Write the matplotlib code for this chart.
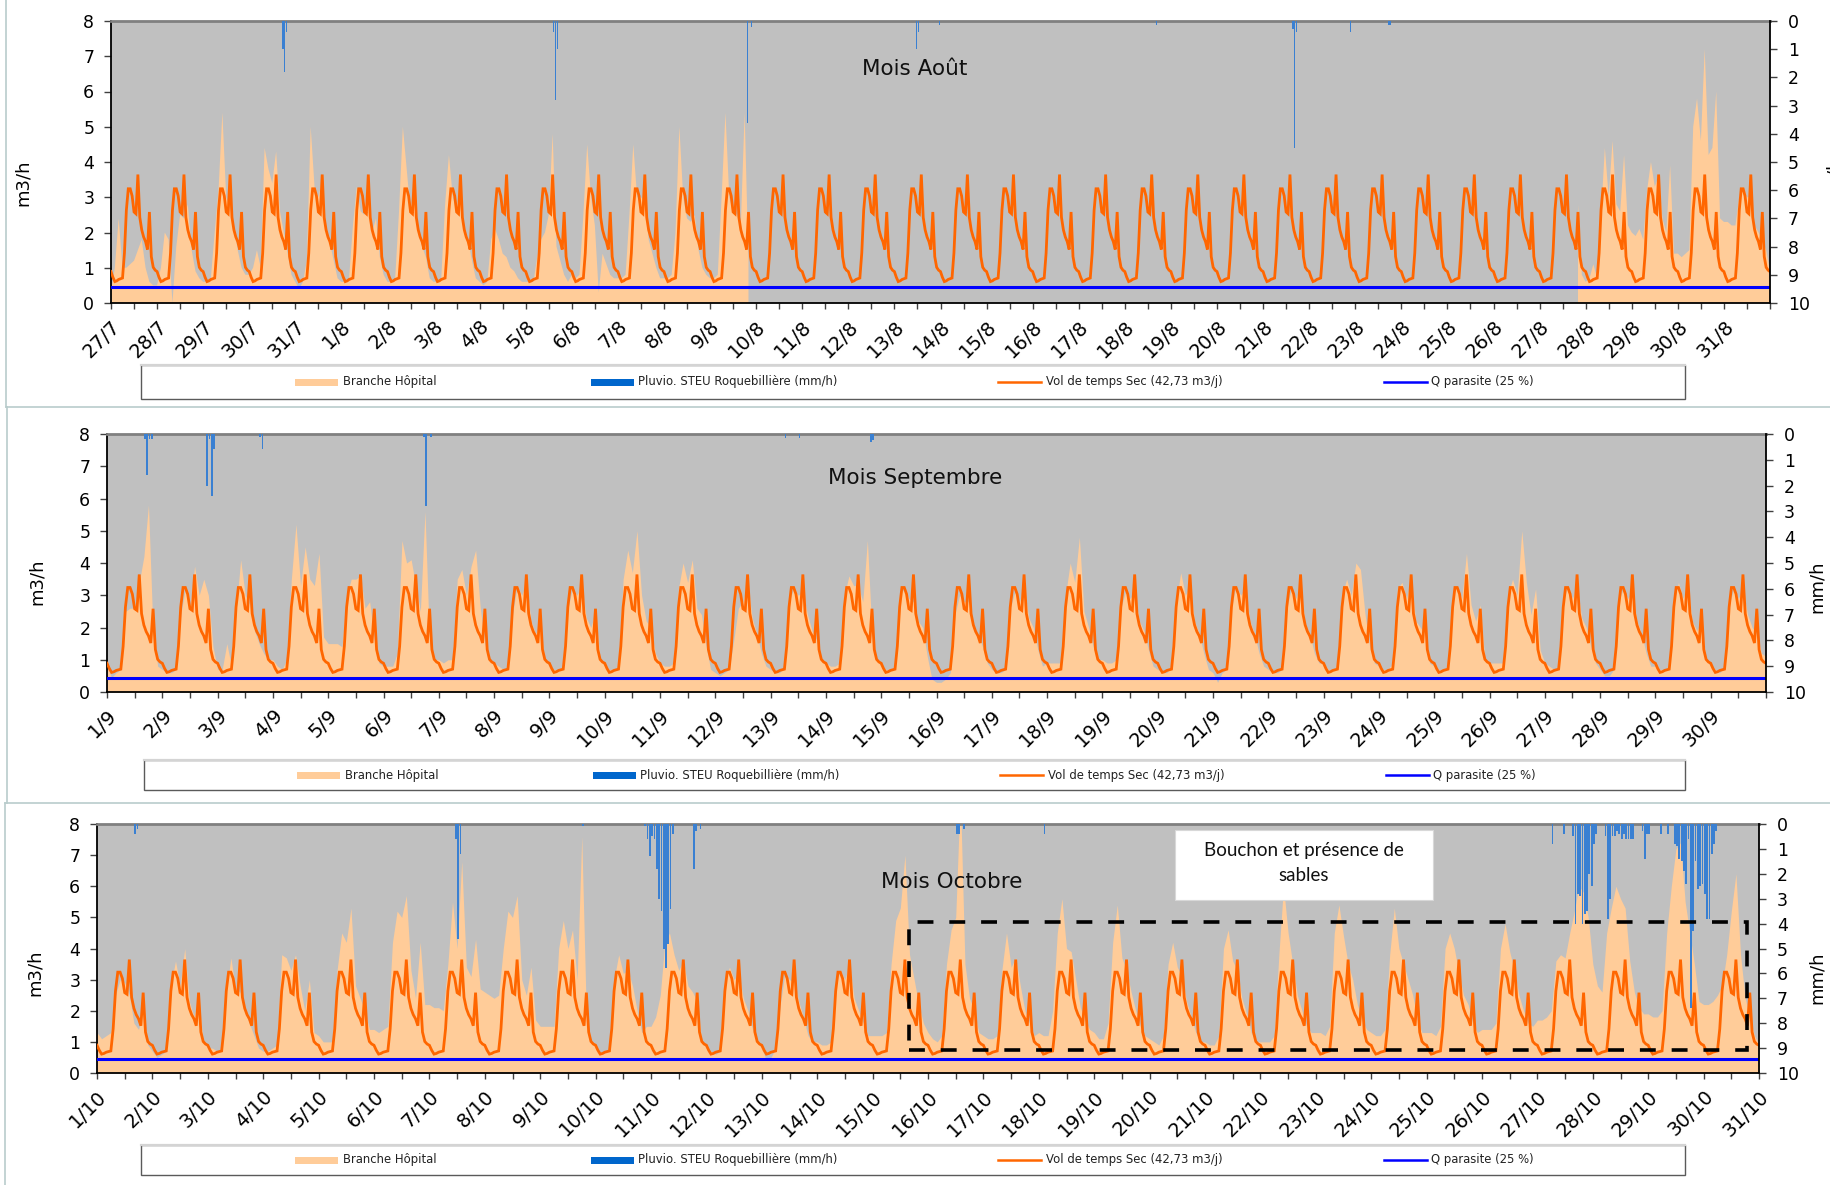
import datetime as dt
import numpy as np
import matplotlib
matplotlib.use("Agg")
import matplotlib.pyplot as plt
from matplotlib.patches import Rectangle
from matplotlib.lines import Line2D

plt.rcParams["font.family"] = ["DejaVu Sans"]

NA = np.nan

# ------------------------------------------------------------------ data
# Hourly dry-weather profile shape (m3/h, hours 0..23), scaled to the daily volume
DRY_SHAPE = [0.88, 0.72, 0.60, 0.62, 0.66, 0.68, 0.70, 1.40, 2.60, 3.20, 3.20, 3.00,
             2.55, 2.50, 3.60, 2.40, 2.05, 1.85, 1.72, 1.50, 2.55, 1.30, 1.00, 0.92]
VOL_SEC_M3J = 42.73          # dry-weather daily volume
PARASITE_SHARE = 0.25        # parasitic flow share of the dry-weather volume

# Hospital branch flow, sampled every two hours (m3/h)
HOSP_HOURS = [0, 2, 4, 6, 8, 10, 12, 14, 16, 18, 20, 22]
NO_DATA = [NA] * 12

HOSP_AUG = [
    [0.3, 1.0, 2.4, 1.0, 1.0, 1.1, 1.2, 1.5, 1.8, 1.0, 0.6, 0.5],   # 27/7
    [0.5, 1.0, 2.0, 1.8, 0.0, 1.6, 2.5, 2.4, 2.8, 1.5, 0.9, 0.7],   # 28/7
    [0.6, 0.6, 0.7, 2.0, 3.2, 5.4, 3.0, 2.7, 2.2, 1.5, 1.0, 0.8],   # 29/7
    [0.8, 1.0, 1.5, 1.0, 4.4, 3.8, 3.4, 4.3, 2.6, 2.0, 1.4, 0.8],   # 30/7
    [0.6, 0.4, 0.6, 1.2, 5.0, 3.3, 3.0, 3.5, 2.1, 1.7, 1.2, 0.7],   # 31/7
    [0.6, 0.6, 0.7, 2.2, 3.3, 2.6, 2.5, 3.5, 2.0, 2.4, 1.3, 0.8],   # 1/8
    [0.6, 0.6, 0.7, 2.6, 5.0, 3.8, 2.6, 3.3, 2.0, 1.6, 1.3, 0.7],   # 2/8
    [0.6, 0.6, 0.7, 2.8, 4.2, 3.0, 2.6, 3.5, 2.0, 1.8, 1.2, 0.7],   # 3/8
    [0.6, 0.5, 0.6, 1.8, 2.1, 1.8, 1.4, 1.3, 1.0, 0.9, 0.7, 0.6],   # 4/8
    [0.6, 0.6, 0.6, 1.3, 1.8, 2.0, 2.5, 4.8, 1.6, 1.2, 0.8, 0.6],   # 5/8
    [0.8, 0.7, 0.8, 2.5, 4.5, 3.0, 2.2, 0.3, 1.4, 1.1, 0.8, 0.7],   # 6/8
    [0.7, 0.7, 0.8, 2.5, 4.5, 3.0, 3.0, 2.9, 1.8, 1.4, 1.0, 0.7],   # 7/8
    [0.7, 0.7, 0.8, 2.0, 5.0, 3.0, 2.4, 2.3, 2.5, 1.5, 1.0, 0.8],   # 8/8
    [0.7, 0.7, 0.8, 3.0, 5.4, 3.0, 2.6, 2.5, 2.2, 5.4, 1.2, NA],    # 9/8
    *([NO_DATA] * 17),                                                # 10/8 .. 26/8
    [NA, NA, NA, NA, NA, NA, NA, NA, NA, NA, 2.8, 0.8],              # 27/8
    [0.6, 0.7, 1.1, 0.7, 2.5, 4.4, 3.0, 4.6, 2.8, 2.6, 4.2, 2.2],   # 28/8
    [2.0, 1.9, 2.1, 1.8, 3.2, 4.0, 3.3, 3.6, 2.4, 2.0, 3.9, 1.4],   # 29/8
    [1.4, 1.3, 1.4, 1.5, 5.0, 5.8, 4.6, 7.2, 4.2, 4.4, 6.0, 2.4],   # 30/8
    [2.3, 2.3, 2.2, 2.2, 3.0, 3.3, 3.0, 3.0, 2.2, 2.0, 1.8, 1.5],   # 31/8
]
HOSP_AUG_END = 0.9

HOSP_SEP = [
    [0.8, 0.45, 0.6, 0.7, 2.5, 2.6, 2.6, 3.4, 4.2, 5.8, 1.8, 0.8],  # 1/9
    [0.7, 0.6, 0.6, 0.7, 2.4, 3.2, 2.6, 3.9, 3.0, 3.5, 3.0, 1.4],
    [0.7, 0.7, 1.5, 0.8, 2.5, 4.1, 3.0, 2.7, 1.9, 1.5, 1.2, 1.0],
    [1.0, 0.8, 0.7, 1.0, 3.5, 5.2, 3.3, 4.5, 3.5, 3.3, 4.3, 1.7],
    [1.5, 1.5, 1.5, 1.4, 3.0, 3.5, 3.5, 3.6, 2.6, 2.8, 1.6, 0.9],   # 5/9
    [0.8, 0.8, 0.8, 1.2, 4.7, 4.0, 4.1, 3.3, 2.5, 5.6, 1.5, 1.0],
    [1.0, 0.9, 1.0, 1.0, 3.5, 3.8, 3.0, 3.9, 4.4, 2.6, 1.5, 1.0],
    [0.9, 0.8, 0.7, 0.7, 2.4, 3.3, 3.0, 3.4, 2.2, 1.8, 2.1, 1.0],
    [0.8, 0.7, 0.7, 0.8, 2.6, 3.2, 3.0, 3.3, 2.3, 2.0, 2.5, 1.0],
    [0.8, 0.7, 0.7, 0.8, 3.5, 4.4, 3.7, 5.0, 3.0, 2.2, 2.0, 1.2],   # 10/9
    [0.9, 0.8, 0.8, 0.9, 3.2, 4.0, 3.4, 4.1, 2.6, 2.4, 1.4, 0.7],
    [0.6, 0.5, 0.6, 0.7, 1.6, 2.6, 2.8, 3.4, 2.3, 1.8, 1.2, 0.8],
    [0.7, 0.6, 0.6, 0.8, 2.8, 3.2, 3.0, 3.1, 2.4, 1.9, 1.6, 1.0],
    [0.9, 0.8, 0.8, 0.9, 3.0, 3.6, 3.3, 3.3, 2.8, 4.7, 1.8, 1.0],
    [0.8, 0.7, 0.7, 0.8, 3.0, 3.2, 2.9, 2.8, 2.2, 2.0, 1.1, 0.4],   # 15/9
    [0.3, 0.3, 0.4, 0.6, 2.4, 3.0, 2.8, 2.8, 2.0, 1.8, 1.4, 0.9],
    [0.7, 0.6, 0.6, 0.7, 2.6, 3.1, 2.8, 3.3, 2.3, 2.0, 1.3, 0.8],
    [0.9, 0.9, 0.9, 0.9, 3.0, 4.0, 3.4, 4.8, 2.5, 2.0, 1.4, 1.0],
    [1.0, 0.9, 0.9, 1.0, 2.6, 3.1, 2.9, 3.1, 2.2, 1.9, 1.3, 0.8],
    [0.7, 0.6, 0.6, 0.8, 2.8, 3.7, 3.0, 3.3, 2.2, 1.8, 1.2, 0.7],   # 20/9
    [0.6, 0.3, 0.6, 0.7, 2.6, 3.3, 3.0, 3.2, 2.2, 1.8, 1.2, 0.8],
    [0.7, 0.6, 0.6, 0.7, 2.6, 3.2, 2.9, 3.3, 2.1, 1.8, 1.2, 0.9],
    [0.9, 0.7, 0.7, 0.8, 3.0, 3.5, 3.0, 4.0, 3.8, 2.4, 1.4, 0.9],
    [0.8, 0.7, 0.7, 0.9, 3.2, 3.4, 2.9, 3.5, 2.2, 2.0, 1.8, 0.9],
    [0.8, 0.7, 0.7, 0.8, 3.0, 3.3, 2.9, 4.3, 2.7, 2.2, 2.7, 1.0],   # 25/9
    [0.9, 0.9, 0.9, 0.9, 3.0, 3.5, 3.0, 5.0, 3.4, 2.4, 3.2, 1.3],
    [0.9, 0.8, 0.7, 0.8, 2.8, 3.3, 2.9, 3.3, 2.3, 2.0, 1.4, 0.9],
    [0.7, 0.5, 0.5, 0.7, 2.8, 3.2, 2.9, 3.1, 2.2, 1.8, 1.2, 0.8],
    [0.8, 0.7, 0.7, 0.8, 2.8, 3.4, 2.9, 3.3, 2.2, 1.9, 2.2, 1.0],
    [0.8, 0.7, 0.6, 0.8, 2.7, 3.2, 2.9, 3.2, 2.4, 2.0, 1.8, 1.2],   # 30/9
]
HOSP_SEP_END = 1.1

HOSP_OCT = [
    [1.3, 1.1, 1.2, 1.3, 2.5, 3.0, 2.9, 2.5, 1.6, 1.4, 2.0, 0.9],   # 1/10
    [0.7, 0.5, 0.6, 0.7, 2.8, 3.6, 2.8, 4.0, 2.3, 1.8, 2.4, 1.0],
    [0.8, 0.8, 0.7, 0.8, 2.6, 3.7, 2.7, 2.6, 2.0, 1.6, 1.2, 0.8],
    [0.7, 0.7, 0.8, 0.9, 3.8, 3.7, 3.3, 3.8, 2.8, 2.0, 3.0, 1.3],
    [1.2, 1.0, 1.0, 1.0, 3.3, 4.5, 4.2, 5.3, 2.8, 2.4, 2.0, 1.4],   # 5/10
    [1.4, 1.3, 1.4, 1.5, 4.2, 5.2, 5.0, 5.7, 3.3, 2.4, 4.2, 2.2],
    [2.2, 2.1, 2.1, 2.0, 3.5, 5.5, 4.0, 6.8, 3.4, 3.1, 4.3, 2.7],
    [2.6, 2.5, 2.4, 2.5, 4.0, 5.2, 5.0, 5.7, 3.0, 2.5, 3.4, 1.7],
    [1.5, 1.5, 1.5, 1.5, 4.0, 4.9, 4.0, 4.6, 3.0, 7.6, 1.8, 1.0],
    [0.9, 0.6, 0.7, 0.8, 3.0, 3.8, 3.2, 3.3, 2.8, 2.0, 1.3, 1.5],   # 10/10
    [1.5, 1.8, 2.5, 4.2, 4.5, 3.8, 3.3, 3.6, 2.8, 2.6, 2.3, 1.0],
    [0.8, 0.7, 0.6, 0.7, 3.0, 3.4, 3.0, 3.2, 2.4, 2.0, 1.4, 1.0],
    [0.8, 0.4, 0.5, 0.8, 2.2, 3.2, 3.0, 2.9, 2.3, 1.8, 1.2, 1.0],
    [1.0, 0.9, 0.9, 1.0, 2.8, 3.3, 3.0, 3.5, 2.4, 2.0, 1.6, 1.2],
    [1.2, 1.2, 1.2, 1.3, 3.5, 4.9, 5.3, 7.0, 3.8, 3.0, 2.2, 1.6],   # 15/10
    [1.3, 1.1, 1.0, 1.2, 3.5, 4.6, 5.0, 9.0, 3.5, 2.4, 2.0, 1.3],
    [1.2, 1.1, 1.1, 1.2, 3.3, 4.5, 3.4, 3.7, 2.8, 2.0, 1.6, 1.2],
    [1.3, 1.2, 1.2, 2.0, 4.5, 5.6, 4.0, 3.9, 3.0, 2.1, 1.7, 1.4],
    [1.3, 1.1, 1.1, 1.6, 4.2, 5.4, 3.7, 3.3, 2.6, 2.0, 1.5, 1.2],
    [1.1, 1.0, 0.9, 1.2, 3.5, 4.2, 3.4, 3.1, 2.3, 1.8, 1.3, 1.0],   # 20/10
    [1.0, 0.9, 0.9, 1.2, 4.0, 4.6, 3.6, 3.3, 2.4, 1.9, 1.3, 1.0],
    [1.0, 1.0, 1.0, 1.2, 3.8, 6.0, 4.5, 3.5, 2.5, 2.0, 1.5, 1.3],
    [1.3, 1.3, 1.2, 1.5, 4.5, 5.4, 4.4, 3.5, 3.0, 2.2, 1.7, 1.4],
    [1.3, 1.2, 1.2, 1.4, 3.8, 5.3, 4.0, 3.5, 3.0, 2.5, 1.7, 1.3],
    [1.3, 1.3, 1.2, 1.5, 4.0, 4.5, 4.0, 3.2, 2.5, 2.2, 1.6, 1.3],   # 25/10
    [1.4, 1.4, 1.4, 1.6, 4.0, 4.8, 3.9, 3.3, 2.5, 2.0, 1.6, 1.5],
    [1.7, 1.7, 1.8, 2.0, 3.6, 3.8, 3.7, 4.5, 5.2, 6.0, 5.8, 5.0],
    [3.5, 2.8, 2.6, 4.5, 5.3, 6.0, 5.6, 5.3, 3.6, 2.6, 2.1, 1.9],
    [1.9, 1.8, 1.8, 2.0, 4.5, 6.0, 7.2, 7.4, 5.5, 4.5, 3.5, 2.3],
    [2.2, 2.2, 2.3, 2.5, 2.8, 3.8, 5.2, 6.4, 3.8, 2.4, 1.8, 1.2],   # 30/10
]
HOSP_OCT_END = 0.9

# Rainfall, STEU Roquebillière rain gauge (mm/h): date, hour, depth
RAIN_AUG_DATE = ["30/7", "30/7", "30/7", "5/8", "5/8", "5/8", "9/8", "9/8",
                 "13/8", "13/8", "13/8", "18/8", "21/8", "21/8", "21/8",
                 "22/8", "23/8", "23/8"]
RAIN_AUG_HOUR = [17, 18, 19, 14, 15, 16, 19, 21, 11, 12, 23, 16, 15, 16, 17, 21, 17, 18]
RAIN_AUG_MM = [1.0, 1.8, 0.4, 0.4, 2.8, 1.0, 3.6, 0.2, 1.0, 0.4, 0.15, 0.15,
               0.3, 4.5, 0.4, 0.4, 0.15, 0.15]

RAIN_SEP_DATE = ["1/9", "1/9", "1/9", "1/9", "2/9", "2/9", "2/9", "2/9",
                 "3/9", "3/9", "6/9", "6/9", "6/9", "13/9", "13/9", "14/9", "14/9"]
RAIN_SEP_HOUR = [16, 17, 18, 19, 19, 20, 21, 22, 18, 19, 17, 18, 20, 6, 12, 19, 20]
RAIN_SEP_MM = [0.2, 1.6, 0.2, 0.2, 2.0, 0.2, 2.4, 0.6, 0.1, 0.6, 0.1, 2.8, 0.1,
               0.15, 0.15, 0.3, 0.25]

RAIN_OCT_DATE = (["1/10", "1/10", "7/10", "7/10", "7/10", "9/10",
                  "10/10", "10/10", "10/10"]
                 + ["11/10"] * 13
                 + ["16/10", "16/10", "16/10", "18/10"]
                 + ["27/10"] * 11
                 + ["28/10"] * 18
                 + ["29/10"] * 16
                 + ["30/10"] * 6)
RAIN_OCT_HOUR = ([16, 17, 11, 12, 13, 18, 21, 22, 23]
                 + [0, 1, 2, 3, 4, 5, 6, 7, 8, 9, 18, 19, 21]
                 + [12, 13, 15, 2]
                 + [6, 11, 15, 16, 17, 18, 19, 20, 21, 22, 23]
                 + [0, 1, 5, 6, 7, 8, 9, 10, 11, 12, 13, 14, 15, 16, 17, 21, 22, 23]
                 + [0, 5, 8, 11, 12, 13, 14, 15, 16, 17, 18, 19, 20, 21, 22, 23]
                 + [0, 1, 2, 3, 4, 5])
RAIN_OCT_MM = ([0.4, 0.2, 0.6, 4.6, 1.2, 0.1, 0.1, 0.6, 1.3]
               + [0.5, 0.6, 1.8, 3.0, 3.5, 5.0, 5.8, 4.8, 3.4, 0.4, 1.8, 0.3, 0.2]
               + [0.4, 0.4, 0.2, 0.4]
               + [0.8, 0.4, 0.5, 4.0, 2.8, 2.9, 4.0, 3.6, 3.5, 2.0, 2.5]
               + [0.8, 0.4, 0.5, 3.8, 3.0, 0.5, 0.5, 0.3, 0.4, 0.6, 0.4, 0.6, 0.6,
                  0.6, 0.6, 0.3, 1.4, 0.4]
               + [0.4, 0.4, 0.4, 0.8, 0.9, 1.4, 1.5, 1.9, 2.4, 0.6, 7.4, 4.3, 1.5,
                  2.6, 2.5, 2.4]
               + [2.8, 3.8, 3.8, 1.2, 0.8, 0.3])

LEGEND_LABELS = ["Branche Hôpital", "Pluvio. STEU Roquebillière (mm/h)",
                 "Vol de temps Sec (42,73 m3/j)", "Q parasite (25 %)"]

# ------------------------------------------------------------------ styling
C_BG = "#c0c0c0"
C_AREA = "#ffcc99"
C_DRY = "#ff6600"
C_PARA = "#0000ff"
C_RAIN = "#3a80d2"
C_RAIN_KEY = "#0066cc"
C_FRAME = "#b9cccc"

W, H = 1830, 1185
fig = plt.figure(figsize=(W / 100, H / 100), dpi=100)


def fx(px):
    return px / W


def fy(py):
    return 1 - py / H


def day_labels(month, day, n):
    d0 = dt.date(2001, month, day)
    out = []
    for i in range(n + 1):
        d = d0 + dt.timedelta(days=i)
        out.append(f"{d.day}/{d.month}")
    return out


dry_profile = np.array(DRY_SHAPE) * VOL_SEC_M3J / np.sum(DRY_SHAPE)
q_parasite = VOL_SEC_M3J * PARASITE_SHARE / 24.0

PANELS = [
    dict(start=(7, 27), ndays=36, hosp=HOSP_AUG, end=HOSP_AUG_END,
         rain=(RAIN_AUG_DATE, RAIN_AUG_HOUR, RAIN_AUG_MM),
         rect=(111, 21, 1770, 303), last_label=False,
         title="Mois Août", title_px=(915, 69),
         ylab_l=(23, 183), ylab_r=(1834, 183),
         legend=(141, 365, 1685, 399), legend_dx=0),
    dict(start=(9, 1), ndays=30, hosp=HOSP_SEP, end=HOSP_SEP_END,
         rain=(RAIN_SEP_DATE, RAIN_SEP_HOUR, RAIN_SEP_MM),
         rect=(107, 434, 1766, 692), last_label=False,
         title="Mois Septembre", title_px=(915, 478),
         ylab_l=(37, 582), ylab_r=(1817, 587),
         legend=(144, 760, 1685, 790), legend_dx=2),
    dict(start=(10, 1), ndays=30, hosp=HOSP_OCT, end=HOSP_OCT_END,
         rain=(RAIN_OCT_DATE, RAIN_OCT_HOUR, RAIN_OCT_MM),
         rect=(97, 824, 1759, 1073), last_label=True,
         title="Mois Octobre", title_px=(952, 882),
         ylab_l=(35, 973), ylab_r=(1817, 978),
         legend=(141, 1145, 1685, 1175), legend_dx=0),
]


def draw_legend(box, dx):
    x0, y0, x1, y1 = box
    yc = (y0 + y1) / 2
    fig.add_artist(Rectangle((fx(x0), fy(y1)), (x1 - x0) / W, (y1 - y0) / H,
                             transform=fig.transFigure, facecolor="white",
                             edgecolor="#5a5a5a", lw=1.0, zorder=1))
    fig.add_artist(Line2D([fx(x0), fx(x1)], [fy(y0), fy(y0)],
                          transform=fig.transFigure, color="#d4d4d4", lw=1.6, zorder=2))
    sw = 7
    # filled keys
    for xs, col in ((295, C_AREA), (591, C_RAIN_KEY)):
        fig.add_artist(Rectangle((fx(xs + dx), fy(yc + sw / 2)), 43 / W, sw / H,
                                 transform=fig.transFigure, facecolor=col,
                                 edgecolor="none", zorder=3))
    # line keys
    for xs, col in ((998, C_DRY), (1384, C_PARA)):
        fig.add_artist(Line2D([fx(xs + dx), fx(xs + dx + 43)], [fy(yc), fy(yc)],
                              transform=fig.transFigure, color=col, lw=1.8, zorder=3))
    for xt, lab in zip((343, 638, 1046, 1431), LEGEND_LABELS):
        fig.text(fx(xt + dx), fy(yc), lab, ha="left", va="center",
                 fontsize=8.4, color="#222222", zorder=4)


for p in PANELS:
    n = p["ndays"]
    labels = day_labels(p["start"][0], p["start"][1], n)
    l, t, r, b = p["rect"]
    ax = fig.add_axes([fx(l), fy(b), (r - l) / W, (b - t) / H])
    ax.set_facecolor(C_BG)

    # hospital branch area
    hx = np.array([d + h / 24 for d in range(n) for h in HOSP_HOURS] + [n])
    hy = np.array([v for row in p["hosp"] for v in row] + [p["end"]], dtype=float)
    ax.fill_between(hx, 0, np.ma.masked_invalid(hy), color=C_AREA, lw=0, zorder=1)

    # dry-weather profile repeated every day
    lx = np.arange(n * 24 + 1) / 24
    ly = np.concatenate([np.tile(dry_profile, n), dry_profile[:1]])
    ax.plot(lx, ly, color=C_DRY, lw=2.0, zorder=3, solid_joinstyle="miter")

    # parasitic flow
    ax.plot([0, n], [q_parasite, q_parasite], color=C_PARA, lw=2.2, zorder=4)

    ax.set_xlim(0, n)
    ax.set_ylim(0, 8)
    ax.set_yticks(range(0, 9))
    ax.set_xticks(np.arange(0, n + 1, 1.0))
    ax.set_xticks(np.arange(0.5, n, 1.0), minor=True)
    xt_labels = labels[:] if p["last_label"] else labels[:-1] + [""]
    ax.set_xticklabels(xt_labels)
    for lab in ax.get_xticklabels():
        lab.set_rotation(45)
        lab.set_ha("right")
        lab.set_va("top")
        lab.set_rotation_mode("anchor")
    ax.tick_params(axis="x", which="both", direction="out", length=4, width=1,
                   color="#404040", pad=6, labelsize=14)
    ax.tick_params(axis="y", direction="out", length=5, width=1, color="#404040",
                   pad=7, labelsize=12.5)
    for side in ("left", "bottom"):
        ax.spines[side].set_color("black")
        ax.spines[side].set_linewidth(1.3)
    ax.spines["top"].set_color("#808080")
    ax.spines["top"].set_linewidth(2.0)
    ax.spines["right"].set_visible(False)

    # rainfall on the inverted secondary axis
    ax2 = ax.twinx()
    rd, rh, rm = p["rain"]
    rx = np.array([labels.index(d) + (h + 0.5) / 24 for d, h in zip(rd, rh)])
    ax2.bar(rx, rm, width=0.75 / 24, color=C_RAIN, lw=0, zorder=2)
    ax2.set_ylim(10, 0)
    ax2.set_xlim(0, n)
    ax2.set_yticks(range(0, 11))
    ax2.tick_params(axis="y", direction="out", length=5, width=1, color="#404040",
                    pad=8, labelsize=12.5)
    for side in ("left", "top", "bottom"):
        ax2.spines[side].set_visible(False)
    ax2.spines["right"].set_color("black")
    ax2.spines["right"].set_linewidth(1.3)

    # panel title
    tx, ty = p["title_px"]
    fig.text(fx(tx), fy(ty), p["title"], ha="center", va="center",
             fontsize=15.5, color="#111111", zorder=6)

    # axis titles
    fig.text(fx(p["ylab_l"][0]), fy(p["ylab_l"][1]), "m3/h", rotation=90,
             ha="center", va="center", fontsize=13)
    fig.text(fx(p["ylab_r"][0]), fy(p["ylab_r"][1]), "mm/h", rotation=90,
             ha="center", va="center", fontsize=13)

    draw_legend(p["legend"], p["legend_dx"])

    if p["title"] == "Mois Octobre":
        # zone affected by the blockage (dashed frame)
        ax2.add_patch(Rectangle((14.66, 0.74), 29.78 - 14.66, 4.86 - 0.74,
                                transform=ax.transData, fill=False, edgecolor="black",
                                lw=2.6, linestyle=(0, (4.4, 4.4)), zorder=5))
        # note box
        bx0, by0, bx1, by1 = 1175, 830, 1433, 900
        fig.add_artist(Rectangle((fx(bx0), fy(by1)), (bx1 - bx0) / W, (by1 - by0) / H,
                                 transform=fig.transFigure, facecolor="white",
                                 edgecolor="#d8d8d8", lw=0.8, zorder=6))
        fig.text(fx((bx0 + bx1) / 2), fy(863), "Bouchon et présence de\nsables",
                 ha="center", va="center", fontsize=13.5, linespacing=1.55,
                 family=["Lato", "DejaVu Sans"], color="#111111", zorder=7)

# page frame lines around the pasted charts
frame = [((6, 0), (6, 407)), ((6, 407), (1830, 407)), ((7, 407), (7, 803)),
         ((5, 803), (1830, 803)), ((5, 803), (5, 1185))]
for (x0, y0), (x1, y1) in frame:
    fig.add_artist(Line2D([fx(x0), fx(x1)], [fy(y0), fy(y1)], transform=fig.transFigure,
                          color=C_FRAME, lw=1.2))

fig.savefig("out.png", dpi=100, facecolor="white")
